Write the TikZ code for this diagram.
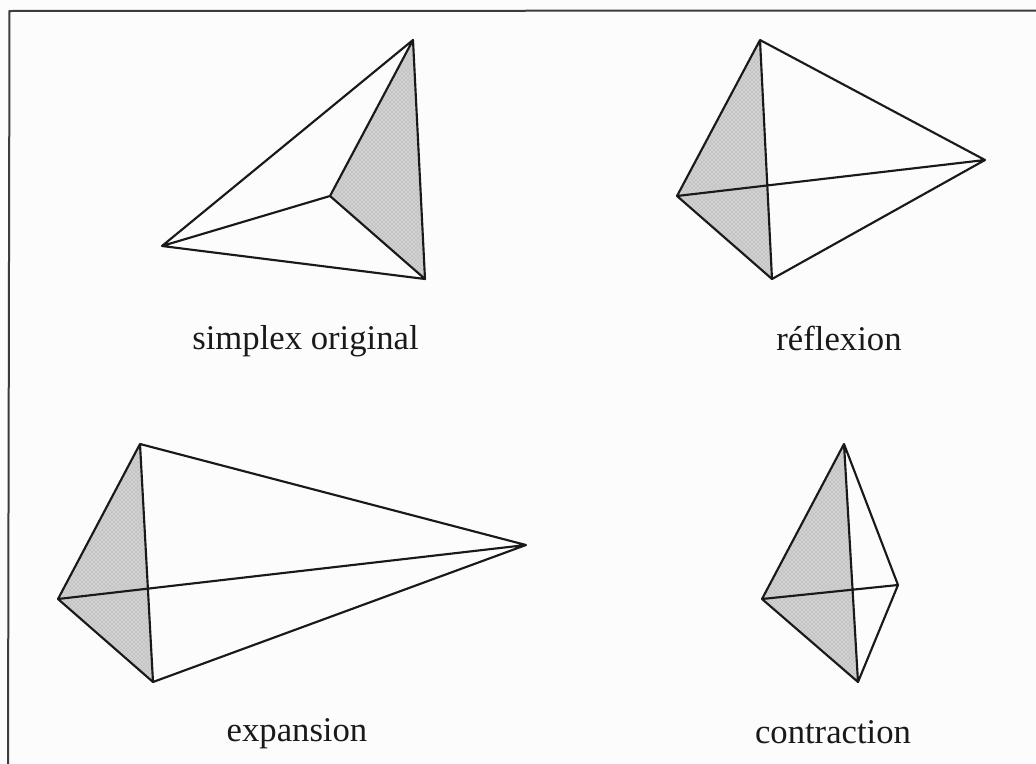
\documentclass[tikz,border=0pt]{standalone}
\usepackage{fontspec}
\usetikzlibrary{patterns}
\setmainfont{Liberation Serif}
\definecolor{shade}{gray}{0.82}
\definecolor{grain}{gray}{0.60}
\definecolor{ink}{gray}{0.10}
\definecolor{paper}{gray}{0.99}
\tikzset{
  edge/.style={draw=ink,line width=1.6pt,line join=round},
  shaded/.style={fill=shade},
  grainy/.style={pattern=crosshatch dots,pattern color=grain},
  frameline/.style={draw=ink!85,line width=1.5pt},
  caption/.style={font=\fontsize{26}{30}\selectfont,text=ink,inner sep=0pt,anchor=base}
}
\begin{document}
\begin{tikzpicture}[x=0.75pt,y=-0.75pt]
\useasboundingbox (0,0) rectangle (1036,764);
\fill[paper] (0,0) rectangle (1036,764);
\coordinate (f0) at (8,764);
\coordinate (f1) at (9.5,11);
\coordinate (f2) at (1036,10.5);
\draw[frameline,line join=miter] (f0)--(f1)--(f2);
% simplex original
\coordinate (a1) at (413,40);
\coordinate (a2) at (162,246);
\coordinate (a3) at (425,279);
\coordinate (a4) at (330,196);
\fill[shaded] (a1)--(a4)--(a3)--cycle;
\fill[grainy] (a1)--(a4)--(a3)--cycle;
\draw[edge] (a1)--(a2)--(a3)--cycle (a4)--(a1) (a4)--(a2) (a4)--(a3);
\node[caption] (t1) at (305.5,349) {simplex original};
% reflexion
\coordinate (b1) at (760,40);
\coordinate (b2) at (677,196);
\coordinate (b3) at (772,279);
\coordinate (b4) at (985,160);
\fill[shaded] (b1)--(b2)--(b3)--cycle;
\fill[grainy] (b1)--(b2)--(b3)--cycle;
\draw[edge] (b1)--(b2)--(b3)--(b4)--cycle (b1)--(b3) (b2)--(b4);
\node[caption] (t2) at (839,350) {réflexion};
% expansion
\coordinate (c1) at (140,444);
\coordinate (c2) at (58,599);
\coordinate (c3) at (153,682);
\coordinate (c4) at (526,545);
\fill[shaded] (c1)--(c2)--(c3)--cycle;
\fill[grainy] (c1)--(c2)--(c3)--cycle;
\draw[edge] (c1)--(c2)--(c3)--(c4)--cycle (c1)--(c3) (c2)--(c4);
\node[caption] (t3) at (297,741) {expansion};
% contraction
\coordinate (d1) at (844,444);
\coordinate (d2) at (762,599);
\coordinate (d3) at (858,682);
\coordinate (d4) at (898,585);
\fill[shaded] (d1)--(d2)--(d3)--cycle;
\fill[grainy] (d1)--(d2)--(d3)--cycle;
\draw[edge] (d1)--(d2)--(d3)--(d4)--cycle (d1)--(d3) (d2)--(d4);
\node[caption] (t4) at (833,743) {contraction};
\end{tikzpicture}
\end{document}
